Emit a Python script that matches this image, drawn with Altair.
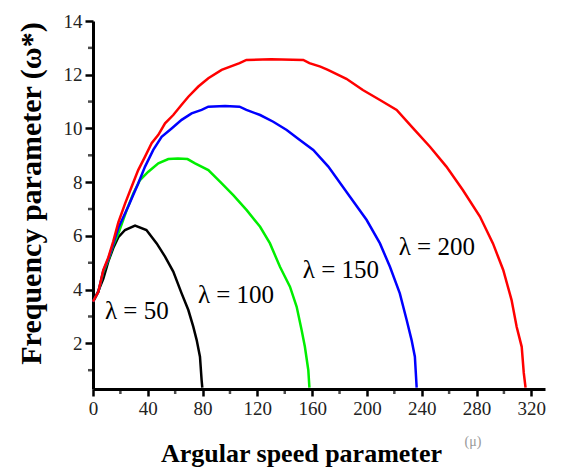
import altair as alt
import pandas as pd

# lambda = 50 (black)
mu_50 = [0, 3.9, 7.5, 11.2, 14.8, 18.5, 23.4, 30.7, 39, 46.5, 52.6, 58.6, 64.7, 69.6, 73.2, 75.7, 78.1, 79.3, 79.8]
om_50 = [3.55, 3.95, 4.4, 5.05, 5.55, 5.95, 6.22, 6.38, 6.22, 5.72, 5.23, 4.67, 3.86, 3.24, 2.62, 2.12, 1.5, 0.63, 0.35]

# lambda = 100 (green)
mu_100 = [0, 3.9, 7.5, 11.2, 14.8, 18.5, 24.6, 29.4, 34.3, 40.4, 47.7, 55, 62, 69, 74.5, 84.2, 92.7, 102.4,
          112.2, 122, 129.2, 136.5, 143.8, 148.7, 152.3, 154.7, 157.2, 158]
om_100 = [3.55, 3.92, 4.65, 5.1, 5.65, 6.09, 6.96, 7.58, 8.08, 8.39, 8.7, 8.86, 8.88, 8.86, 8.7, 8.45, 8.02, 7.52,
          6.96, 6.34, 5.72, 4.85, 4.11, 3.36, 2.5, 1.87, 1.0, 0.35]

# lambda = 150 (blue)
mu_150 = [0, 3.9, 7.5, 11.2, 14.8, 18.5, 25.8, 33, 38, 44, 50.1, 57.4, 64.7, 72, 79.3, 84.2, 96.4, 107, 112,
          122, 131.6, 141.4, 151, 160.8, 171.8, 187.6, 199.8, 209.5, 216.8, 224, 229, 232.6, 235, 236.3]
om_150 = [3.55, 3.92, 4.7, 5.15, 5.7, 6.3, 7.1, 7.95, 8.58, 9.2, 9.69, 10.0, 10.32, 10.56, 10.69, 10.81, 10.84,
          10.81, 10.69, 10.5, 10.25, 9.94, 9.57, 9.2, 8.58, 7.46, 6.59, 5.72, 4.85, 3.86, 2.87, 2.12, 1.5, 0.35]

# lambda = 200 (red)
mu_200 = [0, 3.9, 7.5, 11.2, 14.8, 18.5, 23.4, 28.2, 33, 38, 42.8, 47.7, 52.6, 58.6, 64.7, 69.6, 76.9, 84.2,
          93.9, 107, 112, 130, 153.5, 158, 166, 171.5, 185, 197, 209.5, 221.7, 233.8, 246, 258, 270, 282.5,
          292, 299.5, 305.6, 309.3, 313, 314.5, 315.8]
om_200 = [3.55, 3.92, 4.73, 5.2, 5.8, 6.5, 7.2, 7.83, 8.45, 8.95, 9.45, 9.76, 10.19, 10.5, 10.88, 11.18, 11.56,
          11.87, 12.18, 12.43, 12.55, 12.58, 12.55, 12.43, 12.3, 12.18, 11.85, 11.43, 11.06, 10.69, 10.0, 9.32,
          8.58, 7.71, 6.72, 5.72, 4.73, 3.61, 2.62, 1.87, 0.9, 0.35]

series_colors = ["#000000", "#00ee00", "#0000ff", "#ff0000"]

label_texts = ["λ = 50", "λ = 100", "λ = 150", "λ = 200"]
label_mu = [32, 104.4, 181, 251]
label_om = [3.2, 3.8, 4.73, 5.59]

x_major = [0, 40, 80, 120, 160, 200, 240, 280, 320]
x_minor = [20, 60, 100, 140, 180, 220, 260, 300]
y_major = [2, 4, 6, 8, 10, 12, 14]
y_minor = [1, 3, 5, 7, 9, 11, 13]

FONT = "Liberation Serif"

x_scale = alt.Scale(domain=[0, 330], nice=False, zero=False)
y_scale = alt.Scale(domain=[0.3, 14], nice=False, zero=False)

x_axis = alt.Axis(
    values=x_major, tickSize=7, tickWidth=2.5, tickColor="black",
    domainWidth=3, domainColor="black",
    labelFont=FONT, labelFontSize=19, labelColor="#222", labelPadding=3,
    labelOverlap=False, labelFlush=False, grid=False,
    title="Argular speed parameter", titleFont=FONT, titleFontSize=26, titleFontWeight="bold",
    titleColor="black", titleBaseline="alphabetic", titleX=208, titleY=72, titleAlign="center",
)
y_axis = alt.Axis(
    values=y_major, tickSize=8, tickWidth=2.5, tickColor="black",
    domainWidth=3, domainColor="black",
    labelFont=FONT, labelFontSize=19, labelColor="#222", labelPadding=3,
    labelOverlap=False, labelFlush=False, grid=False,
    title="Frequency parameter (ω*)", titleFont=FONT, titleFontSize=30, titleFontWeight="bold",
    titleColor="black", titleBaseline="alphabetic", titleX=-53, titleY=172, titleAlign="center",
    titleAngle=270,
)

layers = []
for mus, oms, col in [(mu_50, om_50, series_colors[0]), (mu_100, om_100, series_colors[1]),
                      (mu_150, om_150, series_colors[2]), (mu_200, om_200, series_colors[3])]:
    df = pd.DataFrame({"mu": mus, "om": oms})
    layers.append(
        alt.Chart(df).mark_line(color=col, strokeWidth=2.5, interpolate="linear").encode(
            x=alt.X("mu:Q", scale=x_scale, axis=x_axis),
            y=alt.Y("om:Q", scale=y_scale, axis=y_axis),
            order=alt.Order("mu:Q"),
        )
    )

# minor ticks
xm_df = pd.DataFrame({"mu": x_minor})
layers.append(
    alt.Chart(xm_df).mark_tick(color="black", thickness=2.5, size=5, orient="vertical").encode(
        x=alt.X("mu:Q", scale=x_scale), y=alt.value(370.5)
    )
)
ym_df = pd.DataFrame({"om": y_minor})
layers.append(
    alt.Chart(ym_df).mark_tick(color="black", thickness=2.5, size=5, orient="horizontal").encode(
        y=alt.Y("om:Q", scale=y_scale), x=alt.value(-2.5)
    )
)

lab_df = pd.DataFrame({"mu": label_mu, "om": label_om, "t": label_texts})
layers.append(
    alt.Chart(lab_df).mark_text(font=FONT, fontSize=25, color="black", baseline="middle", align="center").encode(
        x=alt.X("mu:Q", scale=x_scale),
        y=alt.Y("om:Q", scale=y_scale),
        text="t:N",
    )
)

mu_df = pd.DataFrame({"t": ["(μ)"]})
layers.append(
    alt.Chart(mu_df).mark_text(font=FONT, fontSize=14, color="#999", baseline="middle", align="center").encode(
        x=alt.value(380), y=alt.value(421), text="t:N"
    )
)

chart = alt.layer(*layers).properties(
    width=452, height=368,
    padding={"left": 85, "top": 13, "right": 12, "bottom": 80},
    autosize="none",
).configure_view(stroke=None)

chart.save("out.html", embed_options={"renderer": "svg", "actions": False})
